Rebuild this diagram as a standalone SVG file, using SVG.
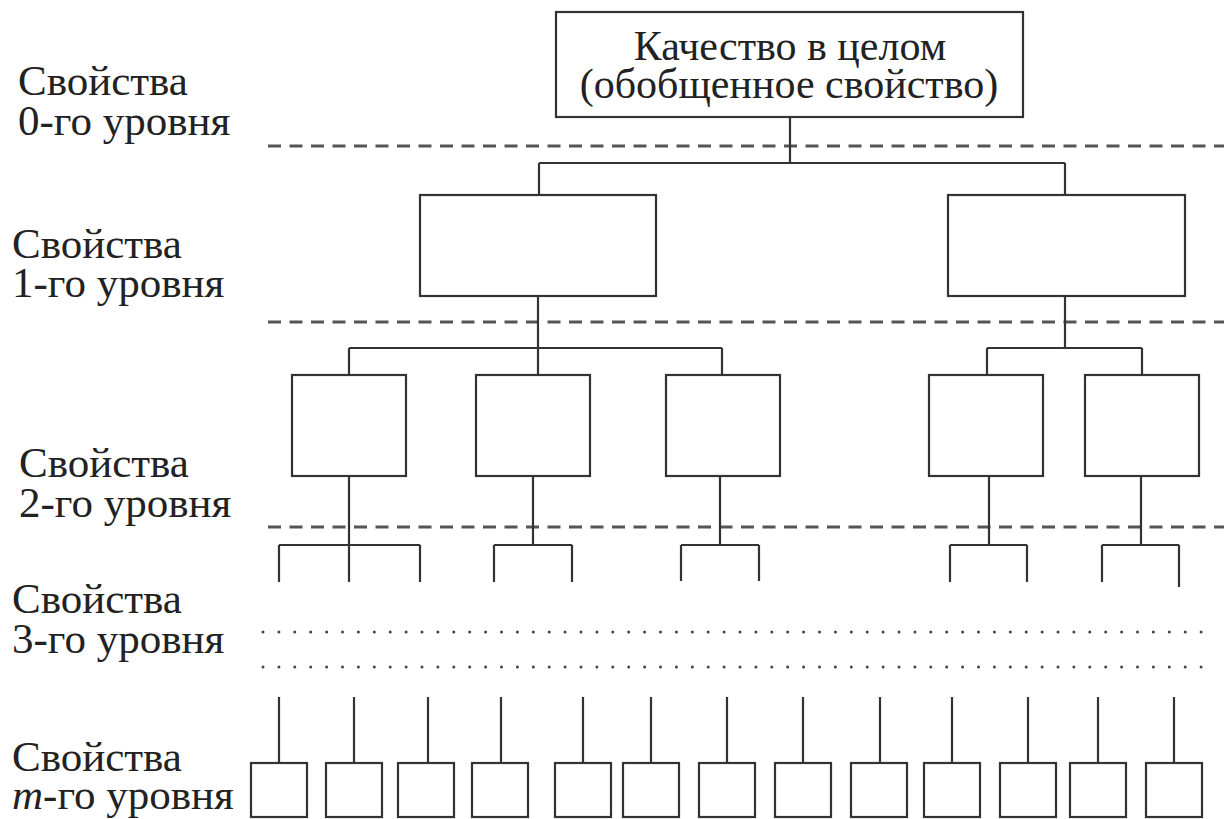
<svg xmlns="http://www.w3.org/2000/svg" width="1224" height="819" viewBox="0 0 1224 819">
<style>
.box{fill:#fff;stroke:#333;stroke-width:2.2}
.ln{fill:none;stroke:#333;stroke-width:2.2}
.dash{fill:none;stroke:#555;stroke-width:3;stroke-dasharray:13 8.5}
.dot{fill:none;stroke:#444;stroke-width:3;stroke-linecap:round;stroke-dasharray:0 15.9}
.lbl{font-family:"Liberation Serif","Times New Roman",serif;font-size:43px;fill:#222}
.ttl{font-family:"Liberation Serif","Times New Roman",serif;font-size:42px;fill:#222;text-anchor:middle}
</style>
<rect width="1224" height="819" fill="#fff"/>
<g id="levels">
<line class="dash" x1="268" y1="146" x2="1224" y2="146"/>
<line class="dash" x1="268" y1="322" x2="1224" y2="322"/>
<line class="dash" x1="268" y1="527" x2="1224" y2="527"/>
<line class="dot" x1="263" y1="632" x2="1212" y2="632"/>
<line class="dot" x1="263" y1="667" x2="1212" y2="667"/>
</g>
<g id="labels">
<text class="lbl" x="18" y="95">Свойства<tspan x="18" dy="40">0-го уровня</tspan></text>
<text class="lbl" x="12" y="258">Свойства<tspan x="12" dy="39">1-го уровня</tspan></text>
<text class="lbl" x="19" y="477">Свойства<tspan x="19" dy="40">2-го уровня</tspan></text>
<text class="lbl" x="12" y="613">Свойства<tspan x="12" dy="40">3-го уровня</tspan></text>
<text class="lbl" x="12" y="771">Свойства<tspan x="12" dy="38"><tspan font-style="italic">m</tspan>-го уровня</tspan></text>
</g>
<g id="connectors">
<path class="ln" d="M790 117V163M539 163H1065M539 163V195M1065 163V195"/>
<path class="ln" d="M538 296V375M349 348H722M349 348V375M722 348V375"/>
<path class="ln" d="M1065 296V348M987 348H1142M987 348V375M1142 348V375"/>
<path class="ln" d="M349 476V582M279 545H420M279 545V582M420 545V582"/>
<path class="ln" d="M533 476V545M494 545H572M494 545V582M572 545V582"/>
<path class="ln" d="M720 476V545M681 545H759M681 545V581M759 545V581"/>
<path class="ln" d="M989 476V545M950 545H1027M950 545V582M1027 545V582"/>
<path class="ln" d="M1141 476V545M1102 545H1179M1102 545V582M1179 545V587"/>
<path class="ln" d="M279 697V763M354 697V763M428 697V763M501 697V763M583 697V763M651 697V763M727 697V763M803 697V763M880 697V763M952 697V763M1028 697V763M1098 697V763M1174 697V763"/>
</g>
<g id="n0">
<rect class="box" x="556" y="12" width="467" height="105"/>
<text class="ttl" x="790" y="60">Качество в целом<tspan x="789" dy="38">(обобщенное свойство)</tspan></text>
</g>
<g id="n1a"><rect class="box" x="420" y="195" width="236" height="101"/></g>
<g id="n1b"><rect class="box" x="948" y="195" width="237" height="101"/></g>
<g id="n2a"><rect class="box" x="292" y="375" width="114" height="101"/></g>
<g id="n2b"><rect class="box" x="476" y="375" width="114" height="101"/></g>
<g id="n2c"><rect class="box" x="666" y="375" width="114" height="101"/></g>
<g id="n2d"><rect class="box" x="929" y="375" width="114" height="101"/></g>
<g id="n2e"><rect class="box" x="1085" y="375" width="114" height="101"/></g>
<g id="nm1"><rect class="box" x="251" y="763" width="56" height="54"/></g>
<g id="nm2"><rect class="box" x="326" y="763" width="56" height="54"/></g>
<g id="nm3"><rect class="box" x="398" y="763" width="56" height="54"/></g>
<g id="nm4"><rect class="box" x="472" y="763" width="56" height="54"/></g>
<g id="nm5"><rect class="box" x="555" y="763" width="56" height="54"/></g>
<g id="nm6"><rect class="box" x="623" y="763" width="56" height="54"/></g>
<g id="nm7"><rect class="box" x="699" y="763" width="56" height="54"/></g>
<g id="nm8"><rect class="box" x="775" y="763" width="56" height="54"/></g>
<g id="nm9"><rect class="box" x="851" y="763" width="56" height="54"/></g>
<g id="nm10"><rect class="box" x="924" y="763" width="56" height="54"/></g>
<g id="nm11"><rect class="box" x="1000" y="763" width="56" height="54"/></g>
<g id="nm12"><rect class="box" x="1070" y="763" width="56" height="54"/></g>
<g id="nm13"><rect class="box" x="1146" y="763" width="56" height="54"/></g>
</svg>
